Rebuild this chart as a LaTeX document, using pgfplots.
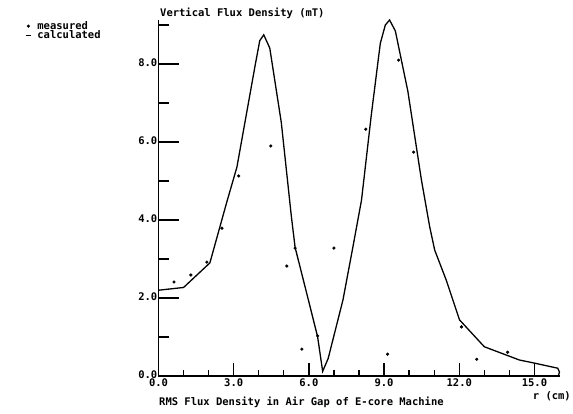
\documentclass[border=0pt]{standalone}
\usepackage{fontspec}
\setmainfont{DejaVu Sans Mono}
\usepackage{pgfplots}
\pgfplotsset{compat=1.18}
\newcommand{\tf}{\fontsize{10.5}{10}\selectfont\bfseries}
\begin{document}
\begin{tikzpicture}
\useasboundingbox (-158.5pt,-38pt) rectangle (414.5pt,376pt);
\pgfplotsset{
  common/.style={
    scale only axis, width=401pt, height=356pt,
    xmin=0, xmax=16, ymin=0, ymax=9.13,
    clip=false, tick align=inside,
    axis line style={-, line width=1.5pt},
    x axis line style={-}, y axis line style={-},
    every tick/.style={line width=1.3pt, black},
    /pgf/number format/assume math mode=true,
    /pgf/number format/fixed, /pgf/number format/fixed zerofill,
    /pgf/number format/precision=1,
    tick label style={font=\tf},
  }
}
% y axis and data
\begin{axis}[common,
  axis y line*=left, axis x line=none,
  ytick={0,2,4,6,8}, minor ytick={1,3,5,7,9},
  major tick length=20pt, minor tick length=10pt,
  yticklabel style={inner sep=0pt, xshift=-1pt, yshift=1.5pt},
  legend style={draw=none, fill=none, at={(axis description cs:-0.333,0.998)}, anchor=north west,
    font=\tf, row sep=-1pt, inner sep=0pt, nodes={inner sep=0.5pt}},
  legend cell align=left,
]
\addplot[only marks, mark=*, mark size=1.4pt,
  legend image code/.code={\draw[only marks, mark=*, mark size=1.4pt] plot coordinates {(2.5pt,0pt)}; \path[draw=none,fill=none] (0pt,0pt) -- (11pt,0pt);}]
coordinates {
(0.62,2.41) (1.29,2.59) (1.93,2.92) (2.53,3.79) (3.2,5.13) (4.48,5.9)
(5.12,2.82) (5.45,3.28) (5.72,0.69) (6.35,1.03) (7.0,3.28) (8.27,6.33)
(9.14,0.56) (9.58,8.1) (10.18,5.74) (12.09,1.26) (12.7,0.43) (13.93,0.61)
};
\addlegendentry{measured}
\addplot[line width=1.3pt, black, mark=none,
  legend image code/.code={\draw[line width=1.5pt] (0pt,0pt) -- (5pt,0pt); \path[draw=none,fill=none] (0pt,0pt) -- (11pt,0pt);}]
coordinates {
(0,2.2) (1.0,2.27) (2.05,2.9) (2.72,4.45) (3.13,5.36) (3.86,7.98) (4.04,8.6)
(4.2,8.75) (4.44,8.41) (4.9,6.5) (5.3,4.1) (5.45,3.3) (6.0,1.9) (6.35,1.0)
(6.55,0.12) (6.77,0.45) (7.36,1.95) (7.76,3.32) (8.1,4.51) (8.49,6.69)
(8.85,8.53) (9.05,9.0) (9.22,9.13) (9.45,8.85) (9.95,7.3) (10.49,5.03)
(10.82,3.83) (11.02,3.23) (11.48,2.46) (12.01,1.44) (13.0,0.75) (14.4,0.41)
(14.93,0.34) (15.93,0.2) (16.0,0.1) (15.95,0.0)
};
\addlegendentry{calculated}
\end{axis}
% x axis
\begin{axis}[common,
  axis x line*=bottom, axis y line=none,
  xtick={0,3,6,9,12,15}, minor xtick={1,2,4,5,7,8,10,11,13,14},
  major tick length=13pt, minor tick length=6pt,
  xticklabel style={inner sep=0pt, yshift=-3pt},
]
\end{axis}
\node[anchor=base west, inner sep=0pt, font=\tf] at (1.5pt,359.5pt) {Vertical Flux Density (mT)};
\node[anchor=base west, inner sep=0pt, font=\tf] at (0.5pt,-29.5pt) {RMS Flux Density in Air Gap of E-core Machine};
\node[anchor=base east, inner sep=0pt, font=\tf] at (412.5pt,-23.5pt) {r (cm)};
\end{tikzpicture}
\end{document}
